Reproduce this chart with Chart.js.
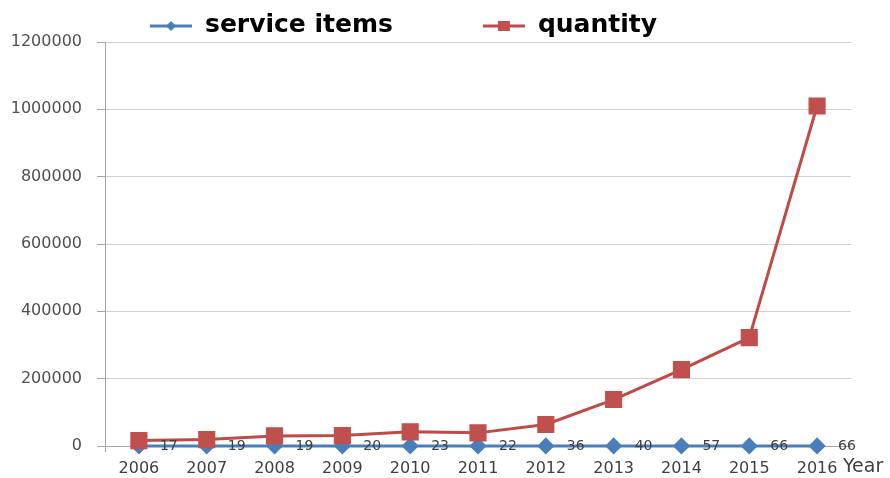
<!DOCTYPE html>
<html>
<head>
<meta charset="utf-8">
<script src="https://cdn.jsdelivr.net/npm/chart.js@4/dist/chart.umd.min.js"></script>
<style>
  html, body { margin: 0; padding: 0; background: #fff; }
  #wrap { width: 890px; height: 478px; }
</style>
</head>
<body>
<div id="wrap"><canvas id="myChart" width="890" height="478"></canvas></div>
<script>
const years = ['2006', '2007', '2008', '2009', '2010', '2011', '2012', '2013', '2014', '2015', '2016'];
const serviceItems = [17, 19, 19, 20, 23, 22, 36, 40, 57, 66, 66];
const quantity = [16000, 19000, 30000, 31000, 42000, 39000, 64000, 138000, 227000, 322000, 1010000];
const yMax = 1200000;
const yStep = 200000;
const xTitle = 'Year';

const blue = '#4a7ebb';
const red = '#be4b48';
const tickFont = { family: 'DejaVu Sans', size: 16 };

// legend like the office one: line + marker, then big text
const officeLegend = {
    id: 'officeLegend',
    afterDraw(chart) {
        const ctx = chart.ctx;
        let x = 150;
        const y = 26;
        ctx.save();
        ctx.font = 'bold 25px "DejaVu Sans"';
        ctx.textBaseline = 'middle';
        chart.data.datasets.forEach((ds) => {
            ctx.strokeStyle = ds.borderColor;
            ctx.lineWidth = 3;
            ctx.beginPath();
            ctx.moveTo(x, y);
            ctx.lineTo(x + 42, y);
            ctx.stroke();
            ctx.fillStyle = ds.pointBackgroundColor;
            ctx.beginPath();
            if (ds.pointStyle === 'rectRot') {
                ctx.moveTo(x + 21, y - 5);
                ctx.lineTo(x + 26, y);
                ctx.lineTo(x + 21, y + 5);
                ctx.lineTo(x + 16, y);
                ctx.closePath();
            } else {
                ctx.rect(x + 15, y - 5, 12, 10);
            }
            ctx.fill();
            ctx.fillStyle = '#000';
            ctx.fillText(ds.label, x + 55, y - 1);
            x += 55 + ctx.measureText(ds.label).width + 90;
        });
        ctx.restore();
    }
};

// value labels right of the blue points + axis title at the end of x axis
const valueLabels = {
    id: 'valueLabels',
    afterDatasetsDraw(chart) {
        const ctx = chart.ctx;
        const meta = chart.getDatasetMeta(0);
        ctx.save();
        ctx.font = '14px "DejaVu Sans"';
        ctx.fillStyle = '#404040';
        ctx.textBaseline = 'middle';
        ctx.textAlign = 'left';
        meta.data.forEach((pt, i) => {
            ctx.fillText(String(chart.data.datasets[0].data[i]), pt.x + 21, pt.y);
        });
        ctx.font = '19px "DejaVu Sans"';
        ctx.fillText(xTitle, chart.chartArea.right - 8, chart.chartArea.bottom + 21);
        // y axis line runs a little below the x axis, as in the office chart
        ctx.strokeStyle = '#a6a6a6';
        ctx.lineWidth = 1;
        ctx.beginPath();
        ctx.moveTo(chart.chartArea.left + 0.5, chart.chartArea.bottom);
        ctx.lineTo(chart.chartArea.left + 0.5, chart.chartArea.bottom + 6);
        ctx.stroke();
        ctx.restore();
    }
};

new Chart(document.getElementById('myChart'), {
    type: 'line',
    data: {
        labels: years,
        datasets: [
            {
                label: 'service items',
                data: serviceItems,
                borderColor: blue,
                backgroundColor: blue,
                pointBackgroundColor: blue,
                pointBorderColor: blue,
                pointStyle: 'rectRot',
                pointRadius: 6.5,
                borderWidth: 3,
                clip: false,
                order: 1
            },
            {
                label: 'quantity',
                data: quantity,
                borderColor: red,
                backgroundColor: '#c0504d',
                pointBackgroundColor: '#c0504d',
                pointBorderColor: '#c0504d',
                pointStyle: 'rect',
                pointRadius: 10,
                borderWidth: 3,
                clip: false,
                order: 0
            }
        ]
    },
    options: {
        responsive: false,
        animation: false,
        layout: { padding: { top: 42, right: 39, left: 0, bottom: 0 } },
        plugins: {
            legend: { display: false },
            tooltip: { enabled: false }
        },
        scales: {
            x: {
                offset: true,
                afterFit: (scale) => { scale.height = 32; },
                grid: { display: false, drawTicks: false },
                border: { display: true, color: '#a6a6a6', width: 1 },
                ticks: { font: tickFont, color: '#404040', padding: 13, maxRotation: 0 }
            },
            y: {
                min: 0,
                max: yMax,
                afterFit: (scale) => { scale.width = 105; },
                grid: { color: '#d0d0d0', tickLength: 8, tickColor: '#a6a6a6' },
                border: { display: true, color: '#a6a6a6', width: 1 },
                ticks: {
                    stepSize: yStep,
                    font: tickFont,
                    color: '#505050',
                    padding: 15,
                    callback: (v) => String(v)
                }
            }
        }
    },
    plugins: [valueLabels, officeLegend]
});
</script>
</body>
</html>
